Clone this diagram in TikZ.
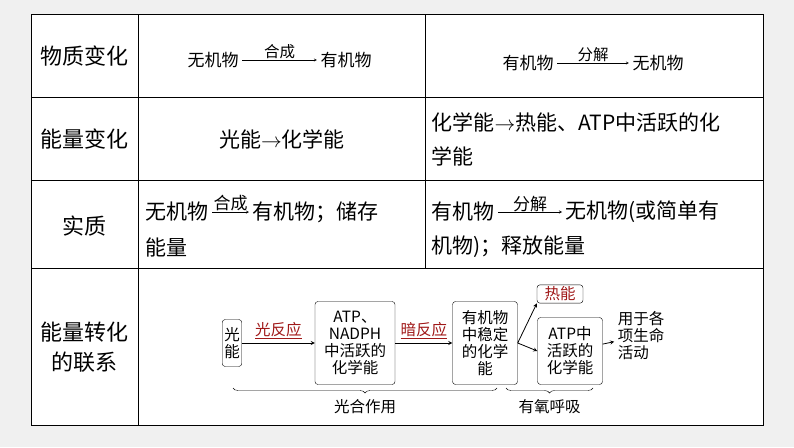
\documentclass[tikz,border=0pt]{standalone}
\usepackage{fontspec}
\setmainfont{Noto Sans CJK SC}
\usetikzlibrary{positioning,decorations.pathreplacing}
\definecolor{bg}{HTML}{F0F0F0}
\definecolor{hong}{HTML}{A01818}
\tikzset{
  head/.style={font=\fontsize{22}{30}\selectfont},
  cell/.style={font=\fontsize{21}{34}\selectfont,align=left},
  box/.style={draw,rounded corners=3pt,align=center,inner sep=2pt,font=\fontsize{15.5}{17}\selectfont},
  lab/.style={font=\fontsize{15.5}{17}\selectfont},
  big/.style={font=\fontsize{17}{20}\selectfont},
  flow/.style={-stealth,thick}
}
\begin{document}
\begin{tikzpicture}[x=1pt,y=-1pt]
  \useasboundingbox[fill=bg] (0,0) rectangle (794,447);
  \fill[white] (31,14) rectangle (763,425);
  % table lines
  \draw[thick] (31,14) rectangle (763,425);
  \draw (31,97) -- (763,97);
  \draw (31,180) -- (763,180);
  \draw (31,268) -- (763,268);
  \draw (138,14) -- (138,268);
  \draw (425,14) -- (425,268);
  \draw (138,268) -- (138,425);
  % column of headings
  \node[head] (h1) at (84,56) {物质变化};
  \node[head] (h2) at (84,139) {能量变化};
  \node[head] (h3) at (84,226) {实质};
  \node[head,align=center] (h4) at (84,347) {能量转化\\的联系};
  % row 1
  \node[big] (a1) at (213,60) {无机物};
  \node[big] (a2) at (346,60) {有机物};
  \draw[flow,thin] (a1) -- node[above=-2pt,lab] {合成} (a2);
  \node[big] (b1) at (528,63) {有机物};
  \node[big] (b2) at (658,63) {无机物};
  \draw[flow,thin] (b1) -- node[above=-2pt,lab] {分解} (b2);
  % row 2
  \node[cell] (c1) at (282,139) {光能$\to$化学能};
  \node[cell,anchor=west] (c2) at (428,139) {化学能$\to$热能、ATP中活跃的化\\学能};
  % row 3
  \node[cell,anchor=west] (d1) at (142,212) {无机物};
  \node[cell,anchor=west] (d2) at (249,212) {有机物；储存};
  \draw[flow,thin] (d1) -- node[above=-3pt,big] {合成} (d2);
  \node[cell,anchor=west] (d3) at (142,247) {能量};
  \node[cell,anchor=west] (e1) at (428,212) {有机物};
  \node[cell,anchor=west] (e2) at (562,212) {无机物(或简单有};
  \draw[flow,thin] (e1) -- node[above=-3pt,big] {分解} (e2);
  \node[cell,anchor=west] (e3) at (428,247) {机物)；释放能量};
  % row 4 diagram
  \node[box,minimum height=47] (gn) at (232,343) {光\\能};
  \node[box,minimum width=80,minimum height=83] (atp) at (355,343) {ATP、\\NADPH\\中活跃的\\化学能};
  \node[box,minimum width=65,minimum height=83] (yjw) at (485,343) {有机物\\中稳定\\的化学\\能};
  \node[box,text=hong,minimum width=46] (rn) at (560,294) {热能};
  \node[box,minimum width=65,minimum height=67] (atp2) at (570,351) {ATP中\\活跃的\\化学能};
  \node[lab,align=left] (use) at (641,336) {用于各\\项生命\\活动};
  \draw[flow] (gn) -- node[above,text=hong,lab] {\underline{光反应}} (atp);
  \draw[flow] (atp) -- node[above,text=hong,lab] {\underline{暗反应}} (yjw);
  \draw[flow] (yjw.east) -- (rn.south west);
  \draw[flow] (yjw.east) -- (atp2.west);
  \draw[flow] (atp2) -- (use);
  \coordinate (p1) at (233,388);
  \coordinate (p2) at (497,388);
  \coordinate (q1) at (506,388);
  \coordinate (q2) at (593,388);
  \draw[decorate,decoration={brace,amplitude=5pt}] (p2) -- (p1) node[midway,below=8pt,lab] {光合作用};
  \draw[decorate,decoration={brace,amplitude=5pt}] (q2) -- (q1) node[midway,below=8pt,lab] {有氧呼吸};
\end{tikzpicture}
\end{document}
